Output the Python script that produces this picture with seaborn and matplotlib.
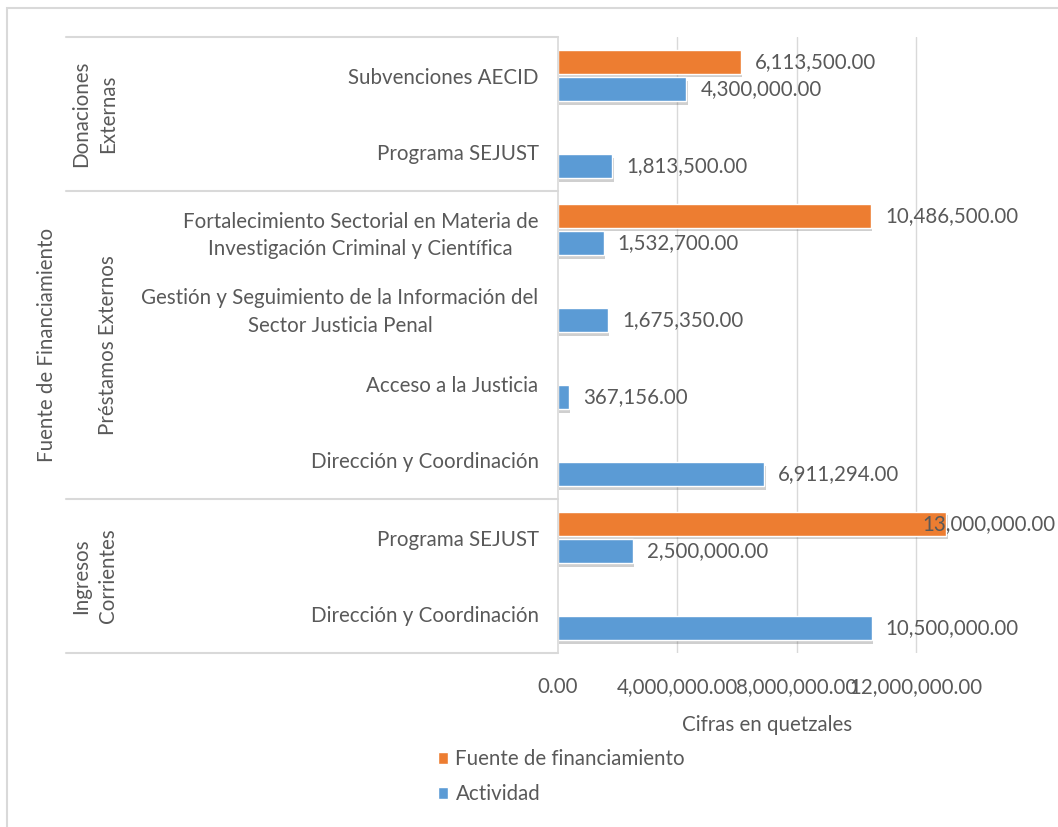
import numpy as np
import pandas as pd
import matplotlib
matplotlib.use("Agg")
import matplotlib.pyplot as plt
import matplotlib.patheffects as pe
from matplotlib.patches import Rectangle
import seaborn as sns

# ---------------- data ----------------
actividades = [
    "Subvenciones AECID",
    "Programa SEJUST",
    "Fortalecimiento Sectorial en Materia de\nInvestigación Criminal y Científica",
    "Gestión y Seguimiento de la Información del\nSector Justicia Penal",
    "Acceso a la Justicia",
    "Dirección y Coordinación",
    "Programa SEJUST",
    "Dirección y Coordinación",
]
grupo = [
    "Donaciones\nExternas", "Donaciones\nExternas",
    "Préstamos Externos", "Préstamos Externos", "Préstamos Externos", "Préstamos Externos",
    "Ingresos\nCorrientes", "Ingresos\nCorrientes",
]
fuente_financiamiento = [6113500.00, np.nan, 10486500.00, np.nan, np.nan, np.nan, 13000000.00, np.nan]
actividad = [4300000.00, 1813500.00, 1532700.00, 1675350.00, 367156.00, 6911294.00, 2500000.00, 10500000.00]
series = ["Fuente de financiamiento", "Actividad"]
x_ticks = [0, 4000000, 8000000, 12000000]

# ---------------- style ----------------
sns.set_theme(style="white")
plt.rcParams["font.family"] = ["Lato", "DejaVu Sans"]
TXT = "#595959"
LINE = "#d9d9d9"
ORANGE = "#ED7D31"
BLUE = "#5B9BD5"
FS = 14.8
LSP = 1.45

rows = [f"r{i}" for i in range(len(actividades))]
df = pd.DataFrame({
    "row": rows * 2,
    "serie": [series[0]] * len(rows) + [series[1]] * len(rows),
    "valor": fuente_financiamiento + actividad,
}).dropna()

W, H = 1058, 827
fig = plt.figure(figsize=(W / 100, H / 100), dpi=100)
fig.patch.set_facecolor("white")
ax = fig.add_axes([558 / W, 1 - 653 / H, (976 - 558) / W, (653 - 37) / H])

sns.barplot(data=df, y="row", x="valor", hue="serie", hue_order=series, order=rows,
            orient="h", palette=[ORANGE, BLUE], width=0.72, gap=0.13,
            errorbar=None, ax=ax, legend=False, saturation=1)

shadow = [pe.SimplePatchShadow(offset=(1.0, -2.5), alpha=0.3, shadow_rgbFace="#606060"), pe.Normal()]
for cont in ax.containers:
    for p in cont.patches:
        p.set_path_effects(shadow)

ax.set_xlim(0, 14000000)
ax.set_ylim(len(rows) - 0.5, -0.5)
ax.set_xticks(x_ticks)
ax.set_xticklabels([f"{v:,.2f}" for v in x_ticks], color=TXT, fontsize=FS)
ax.set_yticks(range(len(rows)))
ax.set_yticklabels(actividades, color=TXT, fontsize=FS)
for t in ax.get_yticklabels():
    t.set_multialignment("center")
    t.set_linespacing(LSP)
ax.tick_params(axis="y", length=0, pad=14)
ax.tick_params(axis="x", length=0, pad=17)
ax.set_ylabel("")
ax.set_xlabel("Cifras en quetzales", color=TXT, fontsize=FS, labelpad=13)

for s in ["top", "right", "bottom"]:
    ax.spines[s].set_visible(False)
ax.spines["left"].set_color(LINE)
ax.spines["left"].set_linewidth(1.2)
ax.xaxis.grid(True, color=LINE, linewidth=1.0)
ax.set_axisbelow(True)
for gl, xv in zip(ax.get_xgridlines(), x_ticks):
    if xv == 0:
        gl.set_visible(False)

# value labels
anns = []
for cont in ax.containers:
    vals = [p.get_width() for p in cont.patches]
    labs = [f"{v:,.2f}" if np.isfinite(v) and v > 0 else "" for v in vals]
    anns += ax.bar_label(cont, labels=labs, padding=10, color=TXT, fontsize=FS)

# group separators and group labels (multi-level category axis)
trans = matplotlib.transforms.blended_transform_factory(ax.transAxes, ax.transData)
x_left = (66 - 558) / (976 - 558)
bounds = [-0.5]
gnames = []
for i, g in enumerate(grupo):
    if i == 0 or g != grupo[i - 1]:
        gnames.append([g, i, i])
    else:
        gnames[-1][2] = i
for g, i0, i1 in gnames:
    bounds.append(i1 + 0.5)
for b in bounds:
    ax.plot([x_left, 0], [b, b], transform=trans, color=LINE, lw=1.5, clip_on=False)
x_grp = (118 - 558) / (976 - 558)
for g, i0, i1 in gnames:
    ax.text(x_grp, (i0 + i1) / 2, g, transform=trans, rotation=90, ha="right", va="center",
            multialignment="center", linespacing=LSP, color=TXT, fontsize=FS)
fig.text(47 / W, 1 - 345 / H, "Fuente de Financiamiento", rotation=90, ha="center", va="center",
         color=TXT, fontsize=FS)

# legend
handles = [Rectangle((0, 0), 1, 1, facecolor=ORANGE), Rectangle((0, 0), 1, 1, facecolor=BLUE)]
leg = fig.legend(handles, series, loc="upper left", bbox_to_anchor=(438 / W, 1 - 749 / H),
                 frameon=False, fontsize=FS, handlelength=0.5, handleheight=0.5,
                 handletextpad=0.35, labelspacing=0.75, borderpad=0, borderaxespad=0)
for t in leg.get_texts():
    t.set_color(TXT)

# chart-area border (only top/left visible in the crop)
fig.add_artist(Rectangle((7 / W, -0.1), 1.2, 1 - 8 / H + 0.1, transform=fig.transFigure,
                         fill=False, edgecolor=LINE, lw=1.5))

# keep data labels inside the figure
fig.canvas.draw()
r = fig.canvas.get_renderer()
for a in anns:
    bb = a.get_window_extent(r)
    over = bb.x1 - (W - 2)
    if over > 0:
        ox, oy = a.xyann
        a.xyann = (ox - over * 72 / fig.dpi, oy)

fig.savefig("out.png", dpi=100, facecolor="white")
